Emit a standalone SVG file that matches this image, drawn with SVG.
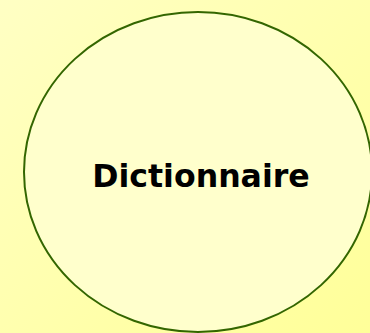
<svg xmlns="http://www.w3.org/2000/svg" width="370" height="333" viewBox="0 0 370 333">
<defs>
<linearGradient id="bg" x1="0" y1="0" x2="1" y2="1">
<stop offset="0" stop-color="#ffffc4"/>
<stop offset="1" stop-color="#ffff99"/>
</linearGradient>
<style>
.node{fill:#ffffcc;stroke:#336600;stroke-width:2}
.lbl{font-family:"DejaVu Sans",Verdana,sans-serif;font-weight:bold;font-size:31.6px;fill:#000}
</style>
</defs>
<rect x="0" y="0" width="370" height="333" fill="url(#bg)"/>
<g id="connectors"></g>
<g id="dictionnaire">
<ellipse class="node" cx="198" cy="172" rx="174" ry="160"/>
<text class="lbl" x="201" y="187" text-anchor="middle">Dictionnaire</text>
</g>
</svg>
